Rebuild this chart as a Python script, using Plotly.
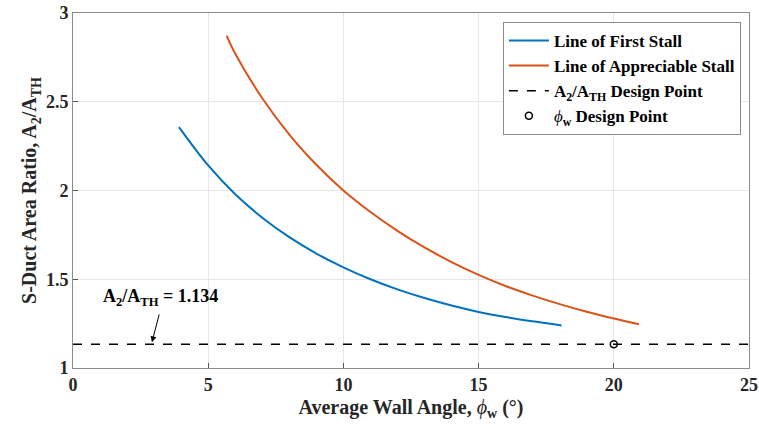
import plotly.graph_objects as go

first_x = [3.92, 5, 6, 7, 8, 9, 10, 11, 12, 13, 14, 15, 16, 17, 18.07]
first_y = [2.357, 2.141, 1.979, 1.847, 1.737, 1.645, 1.567, 1.50, 1.443, 1.394, 1.352, 1.316, 1.287, 1.263, 1.24]

appr_x = [5.68, 6, 7, 8, 9, 10, 11, 12, 13, 14, 15, 16, 17, 18, 19, 20, 20.93]
appr_y = [2.872, 2.77, 2.52, 2.315, 2.145, 2.0, 1.879, 1.773, 1.679, 1.597, 1.525, 1.462, 1.408, 1.36, 1.317, 1.279, 1.247]

design_ratio = 1.134
design_x_range = [0, 25]
phi_design = 20

x_tick_vals = [0, 5, 10, 15, 20, 25]
x_tick_labels = ["0", "5", "10", "15", "20", "25"]
y_tick_vals = [1, 1.5, 2, 2.5, 3]
y_tick_labels = ["1", "1.5", "2", "2.5", "3"]

FONT = "Liberation Serif"

fig = go.Figure()
fig.add_trace(go.Scatter(x=first_x, y=first_y, mode="lines", line=dict(color="#0072BD", width=2, shape="spline"),
                         name="<b>Line of First Stall</b>"))
fig.add_trace(go.Scatter(x=appr_x, y=appr_y, mode="lines", line=dict(color="#D95319", width=2, shape="spline"),
                         name="<b>Line of Appreciable Stall</b>"))
fig.add_trace(go.Scatter(x=design_x_range, y=[design_ratio, design_ratio], mode="lines",
                         line=dict(color="black", width=1.5, dash="dash"),
                         name="<b>A<sub>2</sub>/A<sub>TH</sub> Design Point</b>"))
fig.add_trace(go.Scatter(x=[phi_design], y=[design_ratio], mode="markers",
                         marker=dict(symbol="circle-open", color="black", size=7, line=dict(width=1.5)),
                         name="<i>ϕ</i><b><sub>w</sub> Design Point</b>"))

fig.add_annotation(x=2.92, y=1.145, ax=3.2, ay=1.31, xref="x", yref="y", axref="x", ayref="y",
                   text="", showarrow=True, arrowhead=2, arrowsize=1.2, arrowwidth=1, arrowcolor="black")
fig.add_annotation(x=3.25, y=1.40, xref="x", yref="y", showarrow=False,
                   text="<b>A<sub>2</sub>/A<sub>TH</sub> = 1.134</b>", font=dict(family=FONT, size=18, color="black"))

axis_common = dict(showline=True, mirror=True, linecolor="#8c8c8c", linewidth=1,
                   showgrid=True, gridcolor="#e6e6e6", gridwidth=1, zeroline=False,
                   ticks="inside", ticklen=5, tickcolor="#555555", automargin=False,
                   tickfont=dict(family=FONT, size=18, color="#262626"))

fig.update_xaxes(range=[0, 25], tickvals=x_tick_vals, ticktext=[f"<b>{t}</b>" for t in x_tick_labels],
                 title=dict(text="<b>Average Wall Angle, </b><i>ϕ</i><b><sub>w</sub> (°)</b>",
                            font=dict(family=FONT, size=20, color="#262626"), standoff=6),
                 **axis_common)
fig.update_yaxes(range=[1, 3], tickvals=y_tick_vals, ticktext=[f"<b>{t}</b>" for t in y_tick_labels],
                 title=dict(text="<b>S-Duct Area Ratio, A<sub>2</sub>/A<sub>TH</sub></b>",
                            font=dict(family=FONT, size=20, color="#262626"), standoff=3),
                 **axis_common)

fig.update_layout(
    width=759, height=429,
    margin=dict(l=73, r=10, t=13, b=61),
    plot_bgcolor="white", paper_bgcolor="white",
    font=dict(family=FONT, color="black"),
    legend=dict(x=0.988, y=0.975, xanchor="right", yanchor="top",
                bgcolor="white", bordercolor="#8c8c8c", borderwidth=1,
                font=dict(family=FONT, size=17, color="black"),
                tracegroupgap=0, itemwidth=40),
    showlegend=True,
)

fig.write_html("out.html")
